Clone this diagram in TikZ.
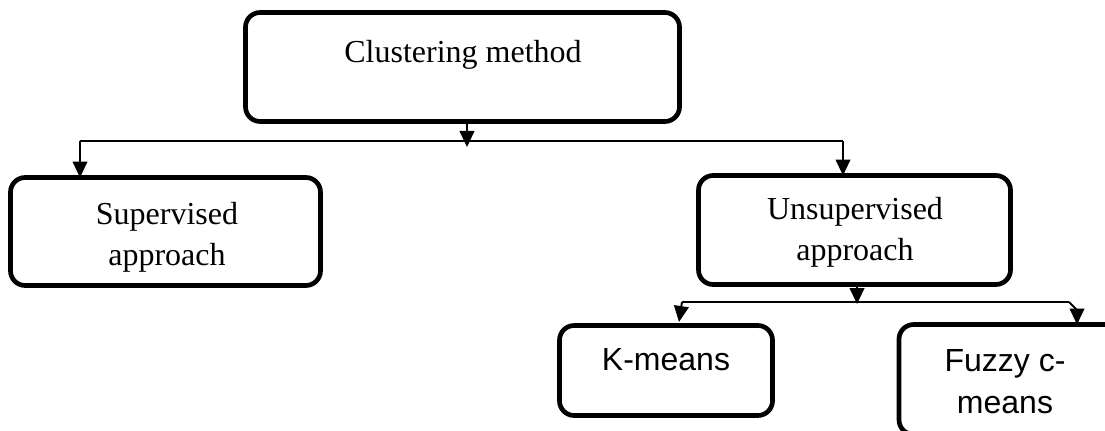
\documentclass[tikz,border=0pt]{standalone}
\usepackage{fontspec}
\setmainfont{Liberation Serif}
\newfontfamily\arialfont{Liberation Sans}
\usetikzlibrary{arrows.meta}
\begin{document}
\begin{tikzpicture}[x=0.75pt,y=-0.75pt,
  box/.style={draw,line width=3.5pt,rounded corners=11pt,inner sep=0pt,outer sep=0pt},
  lbl/.style={align=center,inner sep=0pt,font=\fontsize{24}{30.5}\selectfont},
  albl/.style={align=center,inner sep=0pt,font=\arialfont\fontsize{24}{32}\selectfont},
  conn/.style={line width=1.5pt},
  arr/.style={conn,-{Triangle[length=12pt,width=11pt]}}]
\useasboundingbox (0,0) rectangle (1105,431);
\clip (0,0) rectangle (1105,431);

% boxes
\node[box,minimum width=434*0.75pt,minimum height=109*0.75pt] (top) at (462.5,67) {};
\node[box,minimum width=310*0.75pt,minimum height=108*0.75pt] (sup) at (165.5,231.5) {};
\node[box,minimum width=312*0.75pt,minimum height=109*0.75pt] (uns) at (854.5,230) {};
\node[box,minimum width=213*0.75pt,minimum height=90*0.75pt] (km) at (666,370.5) {};
\node[box,minimum width=224*0.75pt,minimum height=110*0.75pt] (fz) at (1011,379.5) {};

% labels
\node[lbl] (toptxt) at (463,55) {Clustering method};
\node[lbl] (suptxt) at (167,237) {Supervised\\approach};
\node[lbl] (unstxt) at (855,232.5) {Unsupervised\\approach};
\node[albl] (kmtxt) at (666,360) {K-means};
\node[albl] (fztxt) at (1005,381.5) {Fuzzy c-\\means};

% first level connectors
\coordinate (t1) at (467,147);
\coordinate (bl) at (80,141);
\coordinate (br) at (843,141);
\draw[arr] (top.south -| t1) -- (t1);
\draw[conn] (bl) -- (br);
\draw[arr] (bl) -- (sup.north -| bl);
\draw[arr] (br) -- (uns.north -| br);

% second level connectors
\coordinate (t2) at (857,304);
\coordinate (cl) at (682,302);
\coordinate (cr) at (1069,302);
\coordinate (fzin) at (1077,322);
\draw[arr] (uns.south -| t2) -- (t2);
\draw[conn] (cl) -- (cr);
\draw[arr] (cl) -- (679,322);
\draw[arr] (cr) -- (1077,310) -- (fz.north -| fzin);
\end{tikzpicture}
\end{document}
